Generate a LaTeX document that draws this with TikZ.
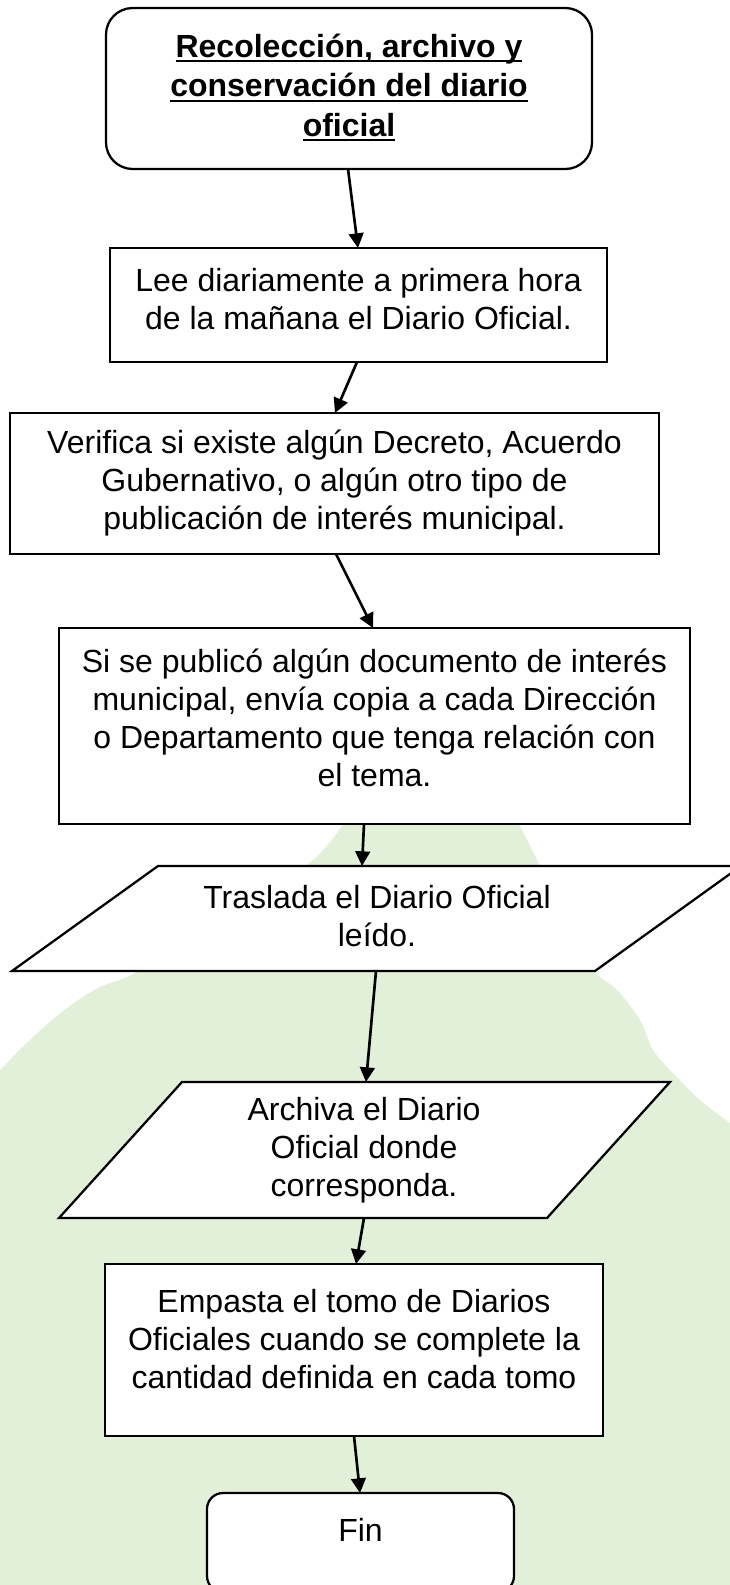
\documentclass[tikz,border=0pt]{standalone}
\usepackage{fontspec}
\setmainfont{Liberation Sans}
\usetikzlibrary{calc,arrows.meta}
\definecolor{bggreen}{HTML}{E2F0D9}
\newcommand{\myul}[1]{\leavevmode\setbox0=\hbox{#1}\rlap{\rule[-3.6pt]{\wd0}{1.5pt}}\box0}
\begin{document}
\begin{tikzpicture}[x=0.75pt,y=-0.75pt,
  box/.style={draw, line width=1.7pt, fill=white, inner sep=0pt, outer sep=0pt},
  ghost/.style={inner sep=0pt, outer sep=0pt},
  txt/.style={align=center, inner sep=0pt, font=\fontsize{24pt}{28.5pt}\selectfont},
  ttl/.style={align=center, inner sep=0pt, font=\fontsize{24pt}{29.5pt}\selectfont\bfseries},
  arr/.style={line width=2pt, -{Triangle[length=11pt,width=11pt]}}]
\useasboundingbox (0,0) rectangle (730,1585);
\clip (0,0) rectangle (730,1585);
% background shape
\fill[bggreen] plot[smooth, tension=0.55] coordinates {(360,790) (342,826) (307,865) (230,915) (137,972) (100,987) (67,1008) (33,1037) (0,1070)} -- (0,1600) -- (730,1600) -- plot[smooth, tension=0.55] coordinates {(730,1123) (700,1100) (670,1070) (653,1050) (640,1020) (617,990) (595,971) (565,920) (540,866) (520,826) (500,790)} -- cycle;
% boxes
\node[box, rounded corners=20pt, minimum width=364.5pt, minimum height=120.75pt] (top) at (349,88.5) {};
\node[box, minimum width=372.75pt, minimum height=85.5pt] (b2) at (358.5,305) {};
\node[box, minimum width=486.75pt, minimum height=105.75pt] (b3) at (334.5,483.5) {};
\node[box, minimum width=473.25pt, minimum height=147pt] (b4) at (374.5,726) {};
\node[ghost, minimum width=546.75pt, minimum height=78.75pt] (p1) at (376.5,918.5) {};
\draw[box] (p1.south west) -- ($(p1.north west)+(146,0)$) -- (p1.north east) -- ($(p1.south east)+(-146,0)$) -- cycle;
\node[ghost, minimum width=458.25pt, minimum height=102pt] (p2) at (364.5,1150) {};
\draw[box] (p2.south west) -- ($(p2.north west)+(123,0)$) -- (p2.north east) -- ($(p2.south east)+(-123,0)$) -- cycle;
\node[box, minimum width=373.5pt, minimum height=129pt] (b7) at (354,1350) {};
\node[box, rounded corners=12pt, minimum width=230.25pt, minimum height=74.25pt] (fin) at (360.5,1542.5) {};
% texts
\node[ttl] (t1) at (349,87.5) {\myul{Recolección, archivo y}\\\myul{conservación del diario}\\\myul{oficial}};
\node[txt] (t2) at (358.5,299) {Lee diariamente a primera hora\\de la mañana el Diario Oficial.};
\node[txt] (t3) at (334.5,483.5) {Verifica si existe algún Decreto, Acuerdo\\Gubernativo, o algún otro tipo de\\publicación de interés municipal.};
\node[txt] (t4) at (374.5,717.5) {Si se publicó algún documento de interés\\municipal, envía copia a cada Dirección\\o Departamento que tenga relación con\\el tema.};
\node[txt] (tp1) at (377,916) {Traslada el Diario Oficial\\leído.};
\node[txt] (tp2) at (364,1150) {Archiva el Diario\\Oficial donde\\corresponda.};
\node[txt] (t7) at (354,1339) {Empasta el tomo de Diarios\\Oficiales cuando se complete la\\cantidad definida en cada tomo};
\node[txt] (tfin) at (360.5,1530) {Fin};
% connectors
\draw[arr] ($(top.south)+(-1,0)$) -- ($(b2.north)+(-0.5,0)$);
\draw[arr] ($(b2.south)+(-1.5,0)$) -- ($(b3.north)+(0.5,0)$);
\draw[arr] ($(b3.south)+(1.5,0)$) -- ($(b4.north)+(-1.5,0)$);
\draw[arr] ($(b4.south)+(-10.5,0)$) -- ($(p1.north)+(-14.5,0)$);
\draw[arr] ($(p1.south)+(-0.5,0)$) -- ($(p2.north)+(1.5,0)$);
\draw[arr] ($(p2.south)+(-0.5,0)$) -- ($(b7.north)+(2,0)$);
\draw[arr] (b7.south) -- ($(fin.north)+(-0.5,0)$);
\end{tikzpicture}
\end{document}
